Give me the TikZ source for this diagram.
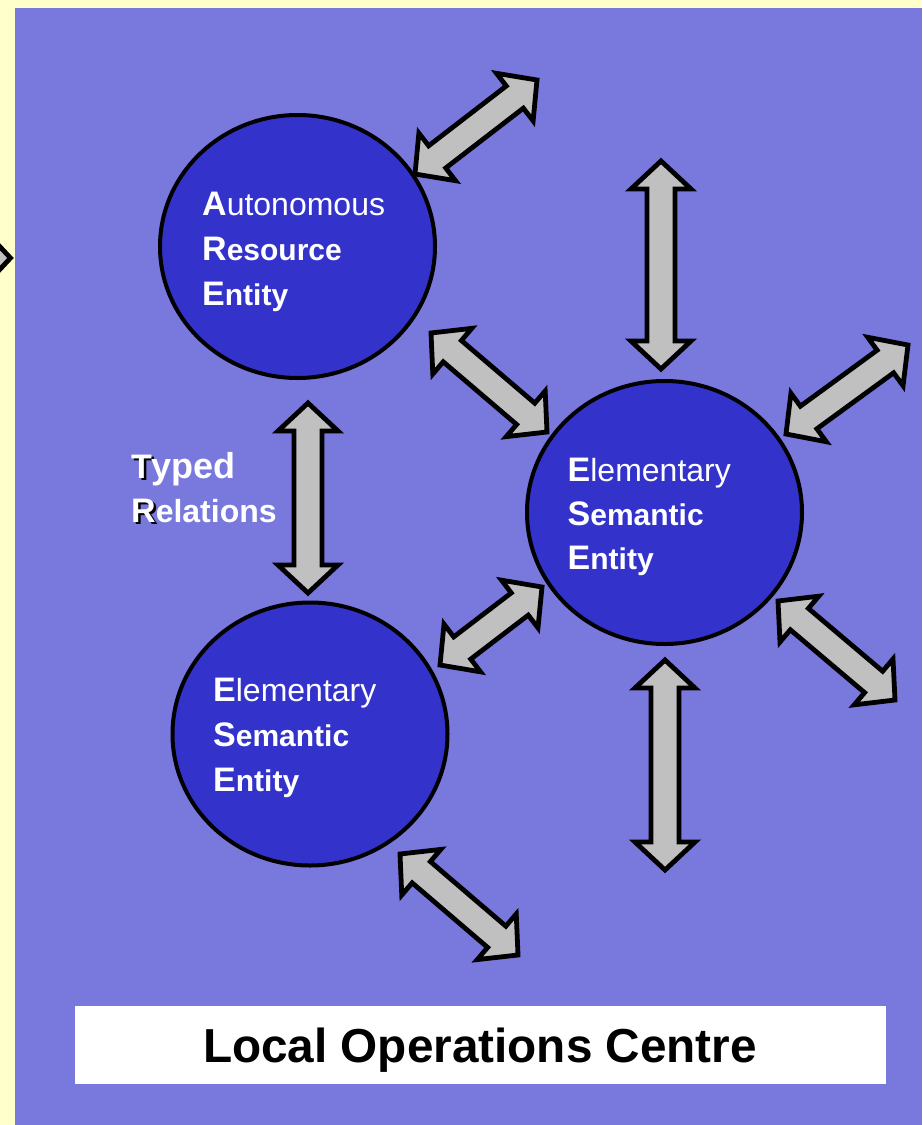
\documentclass[tikz,border=0pt]{standalone}
\usepackage{fontspec}
\setmainfont{Liberation Sans}
\usetikzlibrary{calc,shapes.geometric}

\definecolor{paper}{HTML}{FFFFCC}
\definecolor{panel}{HTML}{7878DD}
\definecolor{disc}{HTML}{3333CC}
\definecolor{shaft}{HTML}{C0C0C0}

% text pieces: large bold initial, bold rest, regular rest
\newcommand\initl[1]{{\fontsize{34}{34}\selectfont\bfseries #1}}
\newcommand\boldrest[1]{{\fontsize{30}{30}\selectfont\bfseries #1}}
\newcommand\plainrest[1]{{\fontsize{32}{32}\selectfont #1}}
% initial with a dark drop shadow
\newcommand\shadinitl[1]{\makebox[0pt][l]{\hspace{2.5pt}\raisebox{-2.5pt}{\color{black}\initl{#1}}}\initl{#1}}

% double-headed block arrow between two named points
\newcommand\dblarrow[2]{%
  \draw[blockarrow]
    (#1)
    -- ($(#1)!28pt!(#2)!30pt!90:(#2)$)
    -- ($(#1)!28pt!(#2)!14pt!90:(#2)$)
    -- ($(#2)!28pt!(#1)!14pt!-90:(#1)$)
    -- ($(#2)!28pt!(#1)!30pt!-90:(#1)$)
    -- (#2)
    -- ($(#2)!28pt!(#1)!30pt!90:(#1)$)
    -- ($(#2)!28pt!(#1)!14pt!90:(#1)$)
    -- ($(#1)!28pt!(#2)!14pt!-90:(#2)$)
    -- ($(#1)!28pt!(#2)!30pt!-90:(#2)$)
    -- cycle;}

\tikzset{
  blockarrow/.style={fill=shaft, draw=black, line width=4.8pt, line join=miter},
  entity/.style={ellipse, fill=disc, draw=black, line width=4pt,
                 minimum width=275pt, minimum height=263pt, inner sep=0pt},
  lbl/.style={text=white, inner sep=0pt, anchor=base west},
}

\begin{document}
\begin{tikzpicture}[x=1pt, y=-1pt]
  \useasboundingbox (0,0) rectangle (922,1125);
  \fill[paper] (0,0) rectangle (922,1125);
  \fill[panel] (15,8) rectangle (922,1125);

  % incoming arrow at the left margin
  \begin{scope}
    \clip (0,0) rectangle (15,1125);
    \coordinate (westend) at (-200,258);
    \coordinate (westtip) at (10.5,258);
    \dblarrow{westend}{westtip}
  \end{scope}

  % entities
  \node[entity] (are)  at (297.5,246.5) {};
  \node[entity] (eseR) at (664.5,512.5) {};
  \node[entity] (eseL) at (310,734) {};

  % arrow end points
  \coordinate (a1s) at (415,174);  \coordinate (a1e) at (537,80);
  \coordinate (a2s) at (661,161);  \coordinate (a2e) at (661,369);
  \coordinate (a3s) at (431,333);  \coordinate (a3e) at (547,432);
  \coordinate (a4s) at (786,434);  \coordinate (a4e) at (908,345);
  \coordinate (a5s) at (308,403);  \coordinate (a5e) at (308,593);
  \coordinate (a6s) at (440,665);  \coordinate (a6e) at (542,587);
  \coordinate (a7s) at (778,601);  \coordinate (a7e) at (895,700);
  \coordinate (a8s) at (665,660);  \coordinate (a8e) at (665,870);
  \coordinate (a9s) at (400,854);  \coordinate (a9e) at (518,955);

  \dblarrow{a1s}{a1e}
  \dblarrow{a2s}{a2e}
  \dblarrow{a3s}{a3e}
  \dblarrow{a4s}{a4e}
  \dblarrow{a5s}{a5e}
  \dblarrow{a6s}{a6e}
  \dblarrow{a7s}{a7e}
  \dblarrow{a8s}{a8e}
  \dblarrow{a9s}{a9e}

  % entity labels
  \node[lbl] (are1) at (202,215) {\initl{A}\plainrest{utonomous}};
  \node[lbl] (are2) at (202,260) {\initl{R}\boldrest{esource}};
  \node[lbl] (are3) at (202,305) {\initl{E}\boldrest{ntity}};

  \node[lbl] (eseR1) at (567.5,481) {\initl{E}\plainrest{lementary}};
  \node[lbl] (eseR2) at (567.5,525) {\initl{S}\boldrest{emantic}};
  \node[lbl] (eseR3) at (567.5,569) {\initl{E}\boldrest{ntity}};

  \node[lbl] (eseL1) at (213,701) {\initl{E}\plainrest{lementary}};
  \node[lbl] (eseL2) at (213,746) {\initl{S}\boldrest{emantic}};
  \node[lbl] (eseL3) at (213,791) {\initl{E}\boldrest{ntity}};

  % relation label
  \node[lbl] (rel1) at (131,478) {\shadinitl{T}{\fontsize{36}{36}\selectfont\bfseries yped}};
  \node[lbl] (rel2) at (131,522) {\shadinitl{R}{\fontsize{32}{32}\selectfont\bfseries elations}};

  % caption bar
  \node[fill=white, minimum width=811pt, minimum height=78pt, inner sep=0pt] (bar) at (480.5,1045) {};
  \node[anchor=base, inner sep=0pt, font={\fontsize{47.7}{47.7}\selectfont\bfseries}] (bartext) at (480,1062) {Local Operations Centre};
\end{tikzpicture}
\end{document}
